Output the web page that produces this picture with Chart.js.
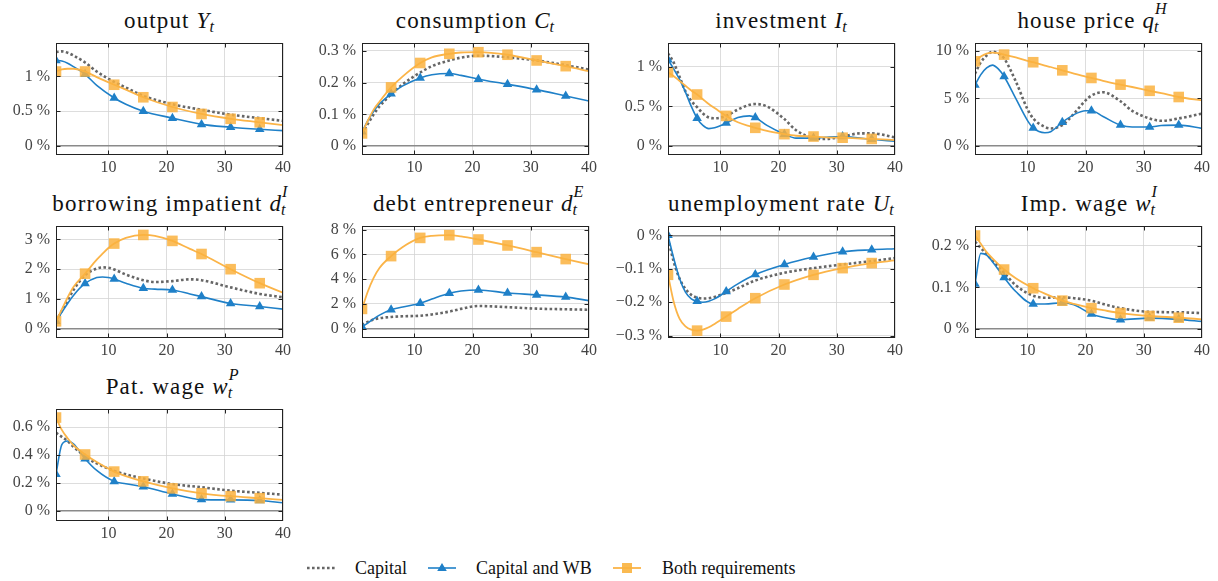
<!DOCTYPE html>
<html>
<head>
<meta charset="utf-8">
<script src="https://cdn.jsdelivr.net/npm/chart.js@4.4.1/dist/chart.umd.min.js"></script>
<style>
  body { margin: 0; background: #fff; width: 1218px; height: 581px; position: relative; overflow: hidden;
         font-family: 'Liberation Serif', 'DejaVu Serif', serif; color: #111; }
  canvas { position: absolute; }
  .ttl { position: absolute; font-size: 23px; line-height: 23px; text-align: center; white-space: nowrap; letter-spacing: 1.15px; }
  .ttl i { letter-spacing: 0; }
  sub { font-size: 0.7em; vertical-align: -0.22em; line-height: 0; font-style: italic; }
  .ss { position: relative; }
  .sp { position: absolute; left: 1px; top: -0.45em; font-size: 0.7em; line-height: 1; font-style: italic; }
  .leg { position: absolute; font-size: 18px; line-height: 18px; white-space: nowrap; top: 559px; }
  svg { position: absolute; }
</style>
</head>
<body>
<div id="root"></div>
<svg style="left:305px;top:560px" width="32" height="16"><line x1="2" y1="8" x2="30" y2="8" stroke="#666" stroke-width="2.6" stroke-dasharray="2.6 2.4"/></svg>
<div class="leg" style="left:355px">Capital</div>
<svg style="left:426px;top:560px" width="32" height="16"><line x1="2" y1="8" x2="30" y2="8" stroke="#1f80c8" stroke-width="1.6"/><polygon points="16,3 20.8,11 11.2,11" fill="#1f80c8"/></svg>
<div class="leg" style="left:476px">Capital and WB</div>
<svg style="left:611px;top:560px" width="32" height="16"><line x1="2" y1="8" x2="30" y2="8" stroke="#fbb448" stroke-width="1.8"/><rect x="11" y="3" width="10" height="10" fill="rgba(250,178,62,0.9)"/></svg>
<div class="leg" style="left:662px">Both requirements</div>

<script>
const xTicks = [10, 20, 30, 40];
const markerPeriods = [1, 6, 11, 16, 21, 26, 31, 36];

// output
const outputT = [1, 2, 3, 4, 6, 8, 11, 13, 16, 21, 26, 31, 36, 40];
const outputCapital = [1.35, 1.36, 1.34, 1.30, 1.20, 1.07, 0.92, 0.84, 0.72, 0.60, 0.52, 0.45, 0.40, 0.36];
const outputCapWB = [1.23, 1.22, 1.19, 1.14, 1.03, 0.87, 0.69, 0.60, 0.50, 0.40, 0.31, 0.27, 0.24, 0.22];
const outputBoth = [1.07, 1.10, 1.11, 1.11, 1.07, 0.99, 0.88, 0.81, 0.70, 0.56, 0.46, 0.39, 0.34, 0.30];
const outputTicks = [0, 0.5, 1];

// consumption
const consT = [1, 2, 3, 4, 6, 8, 11, 13, 16, 18, 21, 26, 31, 36, 40];
const consCapital = [0.04, 0.07, 0.10, 0.125, 0.163, 0.195, 0.232, 0.252, 0.270, 0.279, 0.285, 0.280, 0.270, 0.255, 0.241];
const consCapWB = [0.045, 0.08, 0.11, 0.133, 0.165, 0.19, 0.215, 0.225, 0.229, 0.223, 0.211, 0.195, 0.178, 0.158, 0.142];
const consBoth = [0.04, 0.08, 0.115, 0.14, 0.185, 0.22, 0.262, 0.28, 0.291, 0.295, 0.296, 0.288, 0.270, 0.252, 0.236];
const consTicks = [0, 0.1, 0.2, 0.3];

// investment
const invT = [1, 2, 3, 4, 5, 6, 7, 8, 9, 11, 13, 15, 16, 18, 21, 23, 26, 28, 31, 34, 36, 40];
const invCapital = [1.17, 1.05, 0.87, 0.69, 0.57, 0.49, 0.41, 0.36, 0.35, 0.38, 0.46, 0.52, 0.53, 0.50, 0.34, 0.20, 0.10, 0.09, 0.12, 0.16, 0.16, 0.11];
const invCapWB = [1.09, 0.97, 0.84, 0.68, 0.50, 0.35, 0.26, 0.22, 0.23, 0.29, 0.36, 0.38, 0.36, 0.26, 0.15, 0.10, 0.10, 0.11, 0.12, 0.10, 0.085, 0.06];
const invBoth = [0.93, 0.88, 0.82, 0.76, 0.70, 0.65, 0.59, 0.53, 0.48, 0.38, 0.30, 0.25, 0.23, 0.19, 0.15, 0.13, 0.12, 0.11, 0.105, 0.095, 0.09, 0.075];
const invTicks = [0, 0.5, 1];

// house price
const houseT = [1, 2, 3, 4, 5, 6, 8, 10, 11, 13, 14, 16, 18, 20, 21, 23, 26, 28, 31, 33, 36, 40];
const houseCapital = [7.6, 8.8, 9.5, 9.9, 9.7, 9.2, 6.8, 3.9, 2.9, 2.0, 1.85, 2.2, 3.4, 4.8, 5.3, 5.65, 4.7, 3.7, 2.9, 2.65, 2.9, 3.4];
const houseCapWB = [6.4, 7.5, 8.2, 8.5, 8.1, 7.3, 5.0, 2.7, 1.9, 1.4, 1.5, 2.5, 3.3, 3.7, 3.7, 3.1, 2.2, 2.0, 2.0, 2.15, 2.2, 1.85];
const houseBoth = [8.9, 9.4, 9.7, 9.8, 9.75, 9.6, 9.3, 8.95, 8.8, 8.45, 8.3, 7.95, 7.6, 7.3, 7.15, 6.85, 6.45, 6.2, 5.8, 5.55, 5.15, 4.8];
const houseTicks = [0, 5, 10];

// borrowing impatient
const borrowT = [1, 2, 3, 4, 6, 8, 9, 10, 11, 13, 16, 18, 21, 24, 26, 31, 36, 40];
const borrowCapital = [0.25, 0.6, 0.95, 1.3, 1.8, 2.02, 2.06, 2.05, 1.99, 1.82, 1.63, 1.57, 1.6, 1.66, 1.63, 1.39, 1.17, 1.06];
const borrowCapWB = [0.25, 0.55, 0.85, 1.12, 1.52, 1.72, 1.74, 1.72, 1.67, 1.53, 1.36, 1.33, 1.30, 1.17, 1.08, 0.85, 0.75, 0.66];
const borrowBoth = [0.25, 0.65, 1.05, 1.4, 1.85, 2.32, 2.52, 2.71, 2.86, 3.05, 3.15, 3.12, 2.95, 2.68, 2.51, 2.0, 1.53, 1.21];
const borrowTicks = [0, 1, 2, 3];

// debt entrepreneur
const debtT = [1, 2, 3, 4, 6, 8, 11, 13, 16, 18, 21, 26, 31, 36, 40];
const debtCapital = [0.3, 0.55, 0.75, 0.85, 0.95, 1.0, 1.05, 1.15, 1.38, 1.6, 1.83, 1.74, 1.62, 1.57, 1.53];
const debtCapWB = [0.15, 0.45, 0.8, 1.1, 1.53, 1.75, 2.06, 2.4, 2.87, 3.05, 3.13, 2.88, 2.73, 2.55, 2.27];
const debtBoth = [1.6, 3.0, 4.1, 4.9, 5.86, 6.6, 7.33, 7.5, 7.55, 7.45, 7.2, 6.72, 6.18, 5.62, 5.2];
const debtTicks = [0, 2, 4, 6, 8];

// unemployment rate
const unempT = [1, 2, 3, 4, 5, 6, 7, 8, 9, 11, 13, 16, 21, 26, 31, 36, 40];
const unempCapital = [-0.01, -0.08, -0.13, -0.16, -0.178, -0.186, -0.189, -0.188, -0.184, -0.172, -0.158, -0.135, -0.112, -0.098, -0.087, -0.077, -0.068];
const unempCapWB = [0, -0.07, -0.13, -0.17, -0.19, -0.197, -0.2, -0.197, -0.19, -0.168, -0.145, -0.117, -0.087, -0.065, -0.049, -0.043, -0.04];
const unempBoth = [-0.118, -0.2, -0.25, -0.272, -0.282, -0.285, -0.282, -0.275, -0.265, -0.243, -0.22, -0.188, -0.147, -0.118, -0.098, -0.083, -0.075];
const unempTicks = [0, -0.1, -0.2, -0.3];

// impatient wage
const impT = [1, 2, 3, 4, 6, 8, 11, 13, 16, 18, 21, 23, 26, 31, 36, 40];
const impCapital = [0.21, 0.195, 0.18, 0.165, 0.135, 0.105, 0.08, 0.075, 0.076, 0.074, 0.068, 0.06, 0.05, 0.041, 0.04, 0.038];
const impCapWB = [0.108, 0.182, 0.178, 0.162, 0.124, 0.09, 0.06, 0.06, 0.063, 0.058, 0.036, 0.028, 0.022, 0.026, 0.023, 0.018];
const impBoth = [0.225, 0.205, 0.185, 0.17, 0.143, 0.122, 0.098, 0.085, 0.068, 0.06, 0.05, 0.045, 0.038, 0.031, 0.027, 0.023];
const impTicks = [0, 0.1, 0.2];

// patient wage
const patT = [1, 2, 3, 4, 6, 8, 11, 13, 16, 21, 26, 31, 36, 40];
const patCapital = [0.56, 0.53, 0.5, 0.46, 0.39, 0.34, 0.287, 0.262, 0.233, 0.193, 0.17, 0.146, 0.13, 0.117];
const patCapWB = [0.263, 0.475, 0.5, 0.48, 0.374, 0.29, 0.212, 0.195, 0.174, 0.122, 0.082, 0.08, 0.075, 0.059];
const patBoth = [0.668, 0.58, 0.52, 0.47, 0.404, 0.35, 0.282, 0.25, 0.212, 0.162, 0.127, 0.106, 0.092, 0.08];
const patTicks = [0, 0.2, 0.4, 0.6];

function supSub(sup) {
  return '<span class="ss"><sub>t</sub><span class="sp">' + sup + '</span></span>';
}

const panels = [
  { title: 'output <i>Y</i><sub>t</sub>', t: outputT, cap: outputCapital, wb: outputCapWB, both: outputBoth, ticks: outputTicks, min: -0.13, max: 1.48 },
  { title: 'consumption <i>C</i><sub>t</sub>', t: consT, cap: consCapital, wb: consCapWB, both: consBoth, ticks: consTicks, min: -0.028, max: 0.325 },
  { title: 'investment <i>I</i><sub>t</sub>', t: invT, cap: invCapital, wb: invCapWB, both: invBoth, ticks: invTicks, min: -0.113, max: 1.30 },
  { title: 'house price <i>q</i>' + supSub('H'), t: houseT, cap: houseCapital, wb: houseCapWB, both: houseBoth, ticks: houseTicks, min: -0.94, max: 10.82 },
  { title: 'borrowing impatient <i>d</i>' + supSub('I'), t: borrowT, cap: borrowCapital, wb: borrowCapWB, both: borrowBoth, ticks: borrowTicks, min: -0.31, max: 3.45 },
  { title: 'debt entrepreneur <i>d</i>' + supSub('E'), t: debtT, cap: debtCapital, wb: debtCapWB, both: debtBoth, ticks: debtTicks, min: -0.75, max: 8.29 },
  { title: 'unemployment rate <i>U</i><sub>t</sub>', t: unempT, cap: unempCapital, wb: unempCapWB, both: unempBoth, ticks: unempTicks, min: -0.307, max: 0.028 },
  { title: 'Imp. wage <i>w</i>' + supSub('I'), t: impT, cap: impCapital, wb: impCapWB, both: impBoth, ticks: impTicks, min: -0.022, max: 0.248 },
  { title: 'Pat. wage <i>w</i>' + supSub('P'), t: patT, cap: patCapital, wb: patCapWB, both: patBoth, ticks: patTicks, min: -0.071, max: 0.729 }
];

const colLeft = [56, 362, 668, 975];
const rowTop = [43, 226, 409];
const plotW = 227, plotH = 112;
const padL = 62, padT = 12, padR = 14, padB = 24;

const serif = "'Liberation Serif', 'DejaVu Serif', serif";

function pts(t, v) {
  return t.map((x, i) => ({ x: x, y: v[i] }));
}
function fmt(v) {
  return (v < 0 ? '\u2212' : '') + Math.abs(v) + ' %';
}
function isMarker(ctx) {
  return ctx.raw && markerPeriods.includes(ctx.raw.x);
}

// frame with small inward ticks, like pgfplots
const frame = {
  id: 'frame',
  afterDraw(chart) {
    const { ctx, chartArea: a, scales: { x, y } } = chart;
    const l = Math.round(a.left) + 0.5, r = Math.round(a.right) - 0.5;
    const t = Math.round(a.top) + 0.5, b = Math.round(a.bottom) - 0.5;
    ctx.save();
    ctx.strokeStyle = '#222';
    ctx.lineWidth = 1;
    ctx.beginPath();
    y.ticks.forEach(tk => {
      const py = Math.round(y.getPixelForValue(tk.value)) + 0.5;
      ctx.moveTo(l, py); ctx.lineTo(l + 4, py);
      ctx.moveTo(r, py); ctx.lineTo(r - 4, py);
    });
    x.ticks.forEach(tk => {
      if (tk.value >= 40) return;
      const px = Math.round(x.getPixelForValue(tk.value)) + 0.5;
      ctx.moveTo(px, t); ctx.lineTo(px, t + 4);
      ctx.moveTo(px, b); ctx.lineTo(px, b - 4);
    });
    ctx.stroke();
    ctx.strokeRect(l, t, r - l, b - t);
    ctx.restore();
  }
};

const root = document.getElementById('root');

panels.forEach((p, i) => {
  const L = colLeft[i % 4], T = rowTop[Math.floor(i / 4)];

  const ttl = document.createElement('div');
  ttl.className = 'ttl';
  ttl.innerHTML = p.title;
  ttl.style.left = (L - 20) + 'px';
  ttl.style.width = (plotW + 40) + 'px';
  ttl.style.top = (T - 34) + 'px';
  root.appendChild(ttl);

  const cv = document.createElement('canvas');
  cv.width = plotW + padL + padR;
  cv.height = plotH + padT + padB;
  cv.style.left = (L - padL) + 'px';
  cv.style.top = (T - padT) + 'px';
  root.appendChild(cv);

  new Chart(cv.getContext('2d'), {
    type: 'line',
    data: {
      datasets: [{
        label: 'Both requirements',
        data: pts(p.t, p.both),
        borderColor: '#fbb448',
        borderWidth: 1.8,
        pointStyle: 'rect',
        pointRadius: ctx => isMarker(ctx) ? 7.5 : 0,
        pointBackgroundColor: 'rgba(250,178,62,0.85)',
        pointBorderWidth: 0,
        cubicInterpolationMode: 'monotone',
        fill: false,
        order: 1
      }, {
        label: 'Capital and WB',
        data: pts(p.t, p.wb),
        borderColor: '#1f80c8',
        borderWidth: 1.6,
        pointStyle: 'triangle',
        pointRadius: ctx => isMarker(ctx) ? 5.5 : 0,
        pointBackgroundColor: '#1f80c8',
        pointBorderWidth: 0,
        cubicInterpolationMode: 'monotone',
        fill: false,
        order: 2
      }, {
        label: 'Capital',
        data: pts(p.t, p.cap),
        borderColor: '#666',
        borderWidth: 2.6,
        borderDash: [2.6, 2.4],
        pointRadius: 0,
        cubicInterpolationMode: 'monotone',
        fill: false,
        order: 3
      }]
    },
    options: {
      responsive: false,
      animation: false,
      events: [],
      layout: { padding: { left: 0, top: padT, right: padR, bottom: 0 } },
      plugins: { legend: { display: false }, tooltip: { enabled: false } },
      scales: {
        x: {
          type: 'linear',
          min: 1,
          max: 40,
          bounds: 'data',
          afterBuildTicks: s => { s.ticks = xTicks.map(v => ({ value: v })); },
          afterFit: s => { s.height = padB; s.paddingLeft = 0; s.paddingRight = 0; },
          ticks: { font: { family: serif, size: 16 }, color: '#444', padding: 3, maxRotation: 0, autoSkip: false, callback: v => String(v) },
          grid: { color: '#d4d4d4', lineWidth: 0.8, drawTicks: false },
          border: { display: false }
        },
        y: {
          min: p.min,
          max: p.max,
          bounds: 'data',
          afterBuildTicks: s => { s.ticks = p.ticks.map(v => ({ value: v })); },
          afterFit: s => { s.width = padL; s.paddingTop = 0; s.paddingBottom = 0; },
          ticks: { font: { family: serif, size: 16 }, color: '#444', padding: 6, autoSkip: false, callback: v => fmt(v) },
          grid: {
            color: ctx => ctx.tick && ctx.tick.value === 0 ? '#8a8a8a' : '#d4d4d4',
            lineWidth: ctx => ctx.tick && ctx.tick.value === 0 ? 1.6 : 0.8,
            drawTicks: false
          },
          border: { display: false }
        }
      }
    },
    plugins: [frame]
  });
});
</script>
</body>
</html>
